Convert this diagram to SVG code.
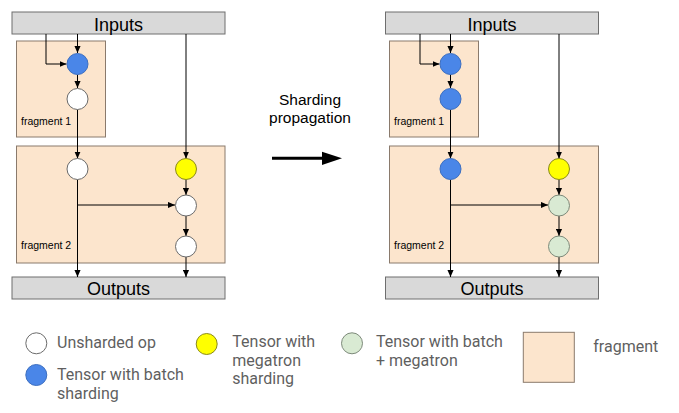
<svg xmlns="http://www.w3.org/2000/svg" width="679" height="413" viewBox="0 0 679 413">
<defs>
<marker id="ah" viewBox="0 0 8 8" refX="8" refY="4" markerWidth="7" markerHeight="7" markerUnits="userSpaceOnUse" orient="auto">
<path d="M0,0.5 L8,4 L0,7.5 Z" fill="#000"/>
</marker>
<style>
.bar{fill:#d9d9d9;stroke:#6e6e6e;stroke-width:1}
.frag{fill:#fce5cd;stroke:#8a7a6c;stroke-width:1}
.white{fill:#fff;stroke:#6b6b6b;stroke-width:1}
.blue{fill:#4a86e8;stroke:#3d6fc0;stroke-width:1}
.yellow{fill:#ffff00;stroke:#8a8a1a;stroke-width:1}
.green{fill:#d9ead3;stroke:#7d8a7a;stroke-width:1}
.bt{font-family:"Liberation Sans",Arial,sans-serif;font-size:18px;fill:#000;text-anchor:middle}
.ft{font-family:"Liberation Sans",Arial,sans-serif;font-size:10.5px;fill:#000}
.mt{font-family:"Liberation Sans",Arial,sans-serif;font-size:15.5px;fill:#000;text-anchor:middle}
.lt{font-family:Roboto,"Liberation Sans",sans-serif;font-size:16px;fill:#5f5f5f}
.c{fill:none;stroke:#000;stroke-width:1}
</style>
</defs>
<rect width="679" height="413" fill="#fff"/>

<!-- LEFT DIAGRAM -->
<g id="left">
<g id="L-inputs"><rect class="bar" x="12" y="12" width="213" height="22"/><text class="bt" x="118.5" y="31">Inputs</text></g>
<g id="L-fragment1"><rect class="frag" x="16.5" y="41" width="89" height="96"/><text class="ft" x="21" y="125">fragment 1</text></g>
<g id="L-fragment2"><rect class="frag" x="16.5" y="146" width="208.5" height="117"/><text class="ft" x="21" y="249">fragment 2</text></g>
<g id="L-outputs"><rect class="bar" x="12" y="277" width="213" height="22"/><text class="bt" x="118.5" y="294.5">Outputs</text></g>
<g id="L-connectors">
<path class="c" d="M77.5,34 V53" marker-end="url(#ah)"/>
<path class="c" d="M46,34 V64 H66.5" marker-end="url(#ah)"/>
<path class="c" d="M77.5,74.5 V88" marker-end="url(#ah)"/>
<path class="c" d="M77.5,109.5 V158.5" marker-end="url(#ah)"/>
<path class="c" d="M77.5,179.5 V277" marker-end="url(#ah)"/>
<path class="c" d="M77.5,205 H175" marker-end="url(#ah)"/>
<path class="c" d="M186,34 V158.5" marker-end="url(#ah)"/>
<path class="c" d="M186,179.5 V195" marker-end="url(#ah)"/>
<path class="c" d="M186,216 V236" marker-end="url(#ah)"/>
<path class="c" d="M186,257 V277" marker-end="url(#ah)"/>
</g>
<g id="L-n1"><circle class="blue" cx="77.5" cy="64" r="10.5"/></g>
<g id="L-n2"><circle class="white" cx="77.5" cy="99" r="10.5"/></g>
<g id="L-n3"><circle class="white" cx="77.5" cy="169" r="10.5"/></g>
<g id="L-n4"><circle class="yellow" cx="186" cy="169" r="10.5"/></g>
<g id="L-n5"><circle class="white" cx="186" cy="205.5" r="10.5"/></g>
<g id="L-n6"><circle class="white" cx="186" cy="246.5" r="10.5"/></g>
</g>

<!-- MIDDLE ARROW -->
<g id="propagation">
<text class="mt" x="310" y="105">Sharding</text>
<text class="mt" x="310" y="123">propagation</text>
<path d="M272,158.3 H323" stroke="#000" stroke-width="3" fill="none"/>
<path d="M322,151.7 L342,158.3 L322,165 Z" fill="#000"/>
</g>

<!-- RIGHT DIAGRAM -->
<g id="right" transform="translate(373,0)">
<g id="R-inputs"><rect class="bar" x="12.5" y="12" width="213" height="22"/><text class="bt" x="119" y="31">Inputs</text></g>
<g id="R-fragment1"><rect class="frag" x="16.5" y="41" width="89" height="96"/><text class="ft" x="21" y="125">fragment 1</text></g>
<g id="R-fragment2"><rect class="frag" x="16.5" y="146" width="209" height="117"/><text class="ft" x="21" y="249">fragment 2</text></g>
<g id="R-outputs"><rect class="bar" x="12.5" y="277" width="213" height="22"/><text class="bt" x="119" y="294.5">Outputs</text></g>
<g id="R-connectors">
<path class="c" d="M77.5,34 V53" marker-end="url(#ah)"/>
<path class="c" d="M47,34 V64 H66.5" marker-end="url(#ah)"/>
<path class="c" d="M77.5,74.5 V88" marker-end="url(#ah)"/>
<path class="c" d="M77.5,109.5 V158.5" marker-end="url(#ah)"/>
<path class="c" d="M77.5,179.5 V277" marker-end="url(#ah)"/>
<path class="c" d="M77.5,205 H175" marker-end="url(#ah)"/>
<path class="c" d="M186,34 V158.5" marker-end="url(#ah)"/>
<path class="c" d="M186,179.5 V195" marker-end="url(#ah)"/>
<path class="c" d="M186,216 V236" marker-end="url(#ah)"/>
<path class="c" d="M186,257 V277" marker-end="url(#ah)"/>
</g>
<g id="R-n1"><circle class="blue" cx="77.5" cy="64" r="10.5"/></g>
<g id="R-n2"><circle class="blue" cx="77.5" cy="99" r="10.5"/></g>
<g id="R-n3"><circle class="blue" cx="77.5" cy="169" r="10.5"/></g>
<g id="R-n4"><circle class="yellow" cx="186" cy="169" r="10.5"/></g>
<g id="R-n5"><circle class="green" cx="186" cy="205.5" r="10.5"/></g>
<g id="R-n6"><circle class="green" cx="186" cy="246.5" r="10.5"/></g>
</g>

<!-- LEGEND -->
<g id="legend">
<g id="lg-unsharded"><circle class="white" cx="36.3" cy="343.3" r="10.5"/><text class="lt" x="57" y="347.5">Unsharded op</text></g>
<g id="lg-batch"><circle class="blue" cx="36.3" cy="375" r="10.5"/><text class="lt" x="57" y="380">Tensor with batch</text><text class="lt" x="57" y="399">sharding</text></g>
<g id="lg-megatron"><circle class="yellow" cx="206.7" cy="344" r="10.5"/><text class="lt" x="232.3" y="347.3">Tensor with</text><text class="lt" x="232.3" y="365.5">megatron</text><text class="lt" x="232.3" y="383.7">sharding</text></g>
<g id="lg-both"><circle class="green" cx="352" cy="343.3" r="10.5"/><text class="lt" x="376" y="347.3">Tensor with batch</text><text class="lt" x="376" y="365.5">+ megatron</text></g>
<g id="lg-fragment"><rect class="frag" x="523.3" y="332.3" width="51" height="50"/><text class="lt" x="593.3" y="352.3">fragment</text></g>
</g>
</svg>
